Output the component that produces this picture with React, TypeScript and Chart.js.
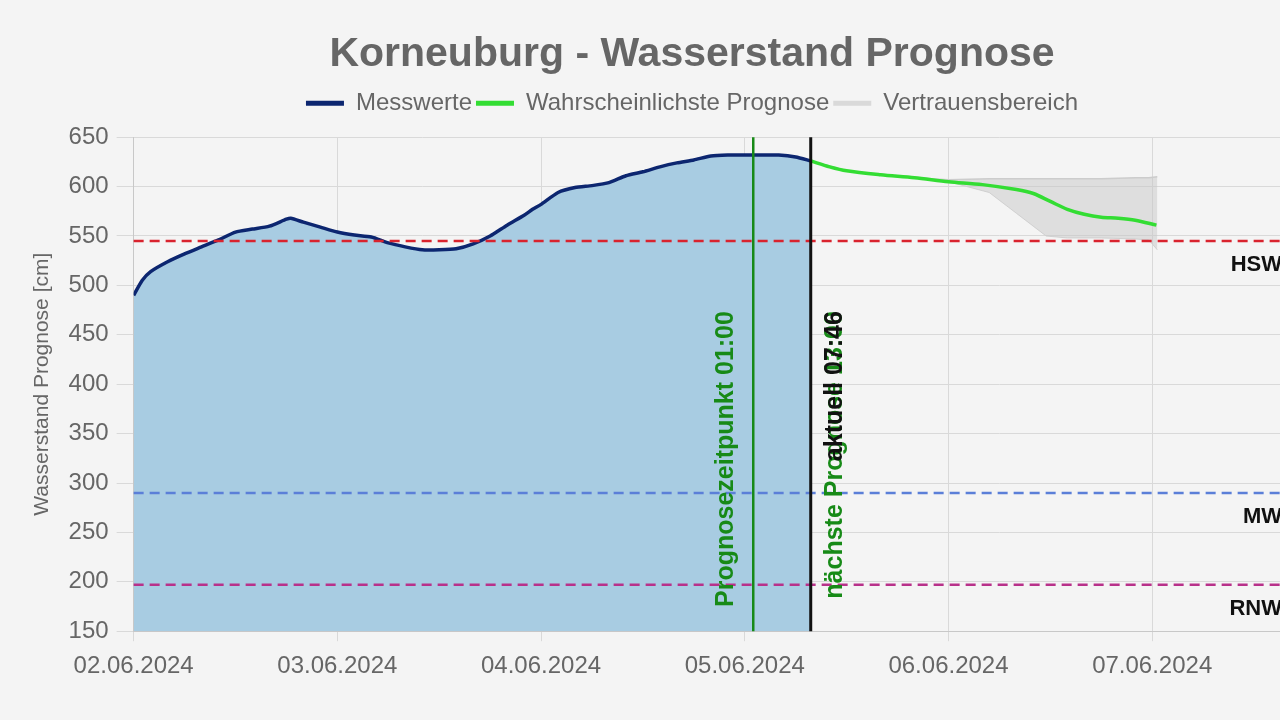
import React, { useEffect, useRef } from 'react';
import { Chart, registerables } from 'chart.js';

Chart.register(...registerables);

// ---- data ----
const dayLabels = ['02.06.2024', '03.06.2024', '04.06.2024', '05.06.2024', '06.06.2024', '07.06.2024'];

// hours since 02.06.2024 00:00
const messHours = [0, 1, 2, 4, 6, 8, 10, 12, 14, 16, 18, 18.5, 20, 22, 24, 26, 28, 30, 32, 34, 36, 38, 40, 42, 44, 46, 47, 48, 50, 52, 54, 56, 58, 60, 62, 64, 66, 68, 70, 72, 74, 76, 78, 79.77];
const messValues = [490, 505, 514, 524, 532, 539, 546, 554, 557, 560, 567, 568, 564, 559, 554, 551, 549, 543, 539, 536, 536, 537, 542, 550, 561, 571, 577, 582, 594, 599, 601, 604, 611, 615, 620, 624, 627, 631, 632, 632, 632, 632, 630, 626];

const progHours = [79.77, 82, 84, 88, 92, 96, 100, 104, 106, 108, 110, 112, 114, 116, 118, 120.5];
const progValues = [626, 620, 616, 612, 609, 605, 602, 597, 593, 585, 577, 572, 569, 568, 566, 561];

const bandHours = [79.77, 84, 88, 92, 96, 100.8, 104, 107.5, 110, 114, 118, 119.6, 120.6];
const bandUpper = [626, 616, 612, 609, 607, 608, 608, 608, 608, 608, 609, 609, 610];
const bandLower = [626, 616, 612, 609, 605, 594, 573, 550, 548, 548, 547, 546, 536];

const levelNames = ['HSW', 'MW', 'RNW'];
const levelValues = [545, 290, 197];
const levelColors = ['#d9232e', '#5b7fd8', '#b8318a'];

const markerHours = [73, 79.77];
const markerColors = ['#178a17', '#111111'];
const markerWidths = [2.5, 3];

const markerLabelTexts = ['Prognosezeitpunkt 01:00', 'nächste Prognose 13:00', 'aktuell 07:46'];
const markerLabelHours = [73, 79.77, 79.77];
const markerLabelColors = ['#178a17', '#178a17', '#111111'];

const toPoints = (xs: number[], ys: number[]) => xs.map((x, i) => ({ x, y: ys[i] }));

const FONT = '"Liberation Sans", Arial, Helvetica, sans-serif';

const legendSpacer = {
  id: 'legendSpacer',
  beforeInit(chart: any) {
    const lg = chart.legend;
    if (!lg) return;
    const orig = lg.fit;
    lg.fit = function () {
      orig.call(this);
      this.height += 12;
    };
  },
};

const overlayPlugin = {
  id: 'overlay',
  beforeDraw(chart: any) {
    const { ctx, width, height } = chart;
    ctx.save();
    ctx.fillStyle = '#f4f4f4';
    ctx.fillRect(0, 0, width, height);
    ctx.restore();
  },
  afterDatasetsDraw(chart: any) {
    const { ctx, chartArea: a, scales } = chart;
    const x = scales.x;
    const y = scales.y;
    ctx.save();
    // horizontal reference levels
    levelValues.forEach((v, i) => {
      const py = y.getPixelForValue(v);
      ctx.setLineDash([10, 6]);
      ctx.lineWidth = 2.5;
      ctx.strokeStyle = levelColors[i];
      ctx.beginPath();
      ctx.moveTo(a.left, py);
      ctx.lineTo(a.right, py);
      ctx.stroke();
      ctx.setLineDash([]);
      ctx.font = `bold 22px ${FONT}`;
      ctx.fillStyle = '#111';
      ctx.textAlign = 'right';
      ctx.textBaseline = 'middle';
      ctx.fillText(levelNames[i], a.right - 6, py + 24);
    });
    // vertical markers
    markerHours.forEach((h, i) => {
      const px = x.getPixelForValue(h);
      ctx.lineWidth = markerWidths[i];
      ctx.strokeStyle = markerColors[i];
      ctx.beginPath();
      ctx.moveTo(px, a.top);
      ctx.lineTo(px, a.bottom);
      ctx.stroke();
    });
    // vertical marker labels
    const endY = y.getPixelForValue(474);
    markerLabelTexts.forEach((t, i) => {
      const px = x.getPixelForValue(markerLabelHours[i]);
      const dx = i === 0 ? -27 : 24;
      ctx.save();
      ctx.translate(px + dx, endY);
      ctx.rotate(-Math.PI / 2);
      ctx.font = `bold 25px ${FONT}`;
      ctx.fillStyle = markerLabelColors[i];
      ctx.textAlign = 'right';
      ctx.textBaseline = 'middle';
      ctx.fillText(t, 0, 0);
      ctx.restore();
    });
    ctx.restore();
  },
};

export default function App() {
  const ref = useRef<HTMLCanvasElement | null>(null);

  useEffect(() => {
    if (!ref.current) return;
    const chart = new Chart(ref.current, {
      type: 'line',
      data: {
        datasets: [
          {
            label: 'Messwerte',
            data: toPoints(messHours, messValues),
            borderColor: '#0c2670',
            backgroundColor: '#a8cce2',
            borderWidth: 3.5,
            pointRadius: 0,
            fill: 'start',
            tension: 0.2,
          },
          {
            label: 'Wahrscheinlichste Prognose',
            data: toPoints(progHours, progValues),
            borderColor: '#33dd33',
            backgroundColor: '#33dd33',
            borderWidth: 3.5,
            pointRadius: 0,
            fill: false,
            tension: 0.3,
          },
          {
            label: 'Vertrauensbereich',
            data: toPoints(bandHours, bandUpper),
            borderColor: '#cccccc',
            backgroundColor: 'rgba(200,200,200,0.5)',
            borderWidth: 1.5,
            pointRadius: 0,
            fill: '+1',
            tension: 0,
          },
          {
            label: 'band-lower',
            data: toPoints(bandHours, bandLower),
            borderColor: '#d4d4d4',
            backgroundColor: 'rgba(200,200,200,0.5)',
            borderWidth: 1,
            pointRadius: 0,
            fill: false,
            tension: 0,
          },
        ],
      },
      options: {
        animation: false,
        responsive: false,
        layout: { padding: { top: 20, left: 25, right: 25, bottom: 28 } },
        plugins: {
          title: {
            display: true,
            text: 'Korneuburg - Wasserstand Prognose',
            color: '#666',
            font: { size: 41, weight: 'bold', family: FONT },
            padding: { top: 10, bottom: 8 },
          },
          legend: {
            display: true,
            labels: {
              color: '#666',
              font: { size: 24, family: FONT },
              boxWidth: 38,
              boxHeight: 5,
              padding: 4,
              filter: (item: any) => item.text !== 'band-lower',
              generateLabels: (c: any) => {
                const items = Chart.defaults.plugins.legend.labels.generateLabels(c);
                return items.map((it: any) => {
                  const ds = c.data.datasets[it.datasetIndex];
                  const col = it.datasetIndex === 2 ? '#d9d9d9' : ds.borderColor;
                  return { ...it, fillStyle: col, strokeStyle: col, lineWidth: 0 };
                });
              },
            },
          },
          tooltip: { enabled: false },
        },
        scales: {
          x: {
            type: 'linear',
            min: 0,
            max: 136,
            ticks: {
              stepSize: 24,
              includeBounds: false,
              autoSkip: false,
              maxRotation: 0,
              color: '#666',
              font: { size: 24, family: FONT },
              padding: 11,
              callback: (v: any) => {
                const i = Number(v) / 24;
                return Number.isInteger(i) && dayLabels[i] ? dayLabels[i] : '';
              },
            },
            grid: { color: '#d9d9d9', tickLength: 10 },
            border: { color: '#c8c8c8' },
          },
          y: {
            min: 150,
            max: 650,
            ticks: {
              stepSize: 50,
              color: '#666',
              font: { size: 24, family: FONT },
              padding: 8,
            },
            grid: { color: '#d9d9d9', tickLength: 17 },
            border: { color: '#c8c8c8' },
            title: {
              display: true,
              text: 'Wasserstand Prognose [cm]',
              color: '#666',
              font: { size: 21, family: FONT },
              padding: { top: 4.4, bottom: 6 },
            },
          },
          y2: {
            position: 'right',
            display: true,
            min: 150,
            max: 650,
            grid: { display: false },
            ticks: { display: false },
            border: { display: false },
            afterFit: (s: any) => {
              s.width = 71;
            },
          },
        },
      },
      plugins: [legendSpacer, overlayPlugin],
    } as any);
    return () => chart.destroy();
  }, []);

  return (
    <div
      style={{
        position: 'fixed',
        left: 0,
        top: 0,
        width: 1280,
        height: 720,
        overflow: 'hidden',
        background: '#f4f4f4',
      }}
    >
      <canvas ref={ref} width={1384} height={720} style={{ display: 'block' }} />
    </div>
  );
}
